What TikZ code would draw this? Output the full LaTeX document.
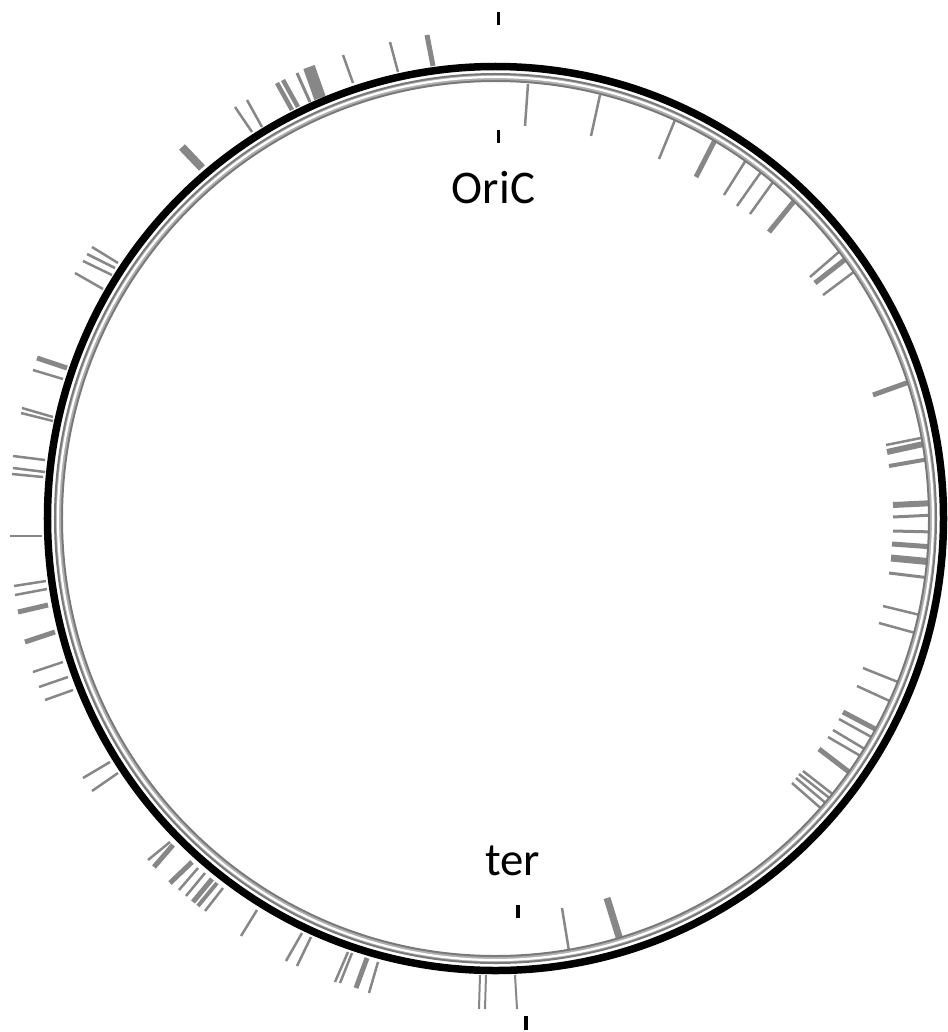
\documentclass[tikz,border=0pt]{standalone}
\usepackage{fontspec}
\setmainfont{Carlito}
\definecolor{tickgray}{RGB}{135,135,135}
\definecolor{ringgray}{RGB}{120,120,120}
\definecolor{ringmid}{RGB}{175,175,175}
\begin{document}
\begin{tikzpicture}[x=1bp,y=-1bp,
  tk/.style={tickgray,line width=#1bp},
  marker/.style={black,line width=3.5bp},
  lbl/.style={font=\fontsize{47}{52}\selectfont,anchor=base,inner sep=0pt}]
\useasboundingbox (0,0) rectangle (948,1032);
\coordinate (c) at (495.5,518.5);
% outer ticks
\foreach \xa/\ya/\xb/\yb/\w in {
 182/147/202/168/8, 235/107/252/132/2.5, 247/100/262/127/2.5,
 277/83/292/110/4.5, 283/80/298/107/4.5, 297/73/310/102/3,
 309/67/320/98/12, 343/55/353/83/2.5, 390/42/398/72/2.5, 427/35/433/66/5,
 92/247/118/263/2.5, 87/254/115/268/2.5, 83/261/112/275/2.5, 75/273/103/289/2.5,
 37/358/67/368/5, 33/370/63/379/2.5, 22/408/53/417/2.5, 21/413/53/421/2.5,
 13/456/45/460/2.5, 13/468/45/472/2.5, 12/474/43/477/2.5, 10/536/42/536/2,
 14/586/46/581/2.5, 15/595/47/589/2.5, 18/612/48/605/5, 25/642/55/632/5,
 33/672/63/662/2.5, 39/687/68/677/2.5, 45/700/73/690/2.5,
 83/778/110/762/2.5, 92/791/118/773/2.5,
 148/860/170/842/2.5, 154/867/173/845/5, 170/883/192/862/5, 179/890/198/868/2.5,
 186/896/205/873/2.5, 193/902/212/879/5, 198/906/217/883/4, 205/911/223/888/2.5,
 241/936/257/910/2.5, 286/961/302/933/2.5, 297/966/311/937/2.5,
 335/982/348/952/2.5, 340/983/352/953/2.5, 356/988/367/958/5, 369/993/378/962/2.5,
 479/1009/480/975/2, 485/1009/486/975/2, 517/1009/515/975/2}
 \draw[tk=\w] (\xa,\ya) -- (\xb,\yb);
% inner ticks
\foreach \xa/\ya/\xb/\yb/\w in {
 528/84/525/126/2.5, 600/95/591/136/2.5, 675/120/659/159/2.5, 715/140/696/177/5,
 746/160/724/195/2.5, 761/172/737/206/2.5, 773/182/750/214/2.5, 795/200/769/232/5,
 840/251/810/277/2.5, 847/258/815/283/5, 855/271/823/295/2.5,
 912/381/873/395/5, 926/437/886/445/2.5, 928/443/887/452/6, 929/459/889/466/4,
 935/503/893/505/6, 935/515/893/517/3, 935/532/893/531/3, 934/547/892/544/5,
 933/562/891/558/7, 930/578/889/573/3, 924/616/883/606/2.5, 919/634/879/623/2.5,
 903/684/863/668/2.5, 894/703/857/686/2.5, 879/731/843/712/5, 875/739/839/719/2.5,
 868/751/833/730/2.5, 864/758/828/737/2.5, 853/775/819/749/5,
 835/796/803/771/2.5, 832/800/799/774/2.5, 828/805/796/778/2.5, 824/811/792/783/2.5,
 569/951/562/908/2.5, 620/940/607/898/7}
 \draw[tk=\w] (\xa,\ya) -- (\xb,\yb);
% grey ring
\draw[ringgray,line width=9bp] (c) ellipse [x radius=437bp, y radius=441bp];
\draw[ringmid,line width=5bp] (c) ellipse [x radius=437bp, y radius=441bp];
\draw[white,line width=2.2bp] (c) ellipse [x radius=437.5bp, y radius=441.5bp];
% black circle
\draw[black,line width=7.5bp] (c) ellipse [x radius=448bp, y radius=452bp];
% markers
\coordinate (o1) at (498.5,12); \coordinate (o2) at (498.5,25);
\coordinate (o3) at (498.5,130); \coordinate (o4) at (498.5,143);
\coordinate (t1) at (518,905); \coordinate (t2) at (518,918);
\coordinate (t3) at (526,1016); \coordinate (t4) at (526,1030);
\draw[marker] (o1) -- (o2);
\draw[marker] (o3) -- (o4);
\draw[marker] (t1) -- (t2);
\draw[marker] (t3) -- (t4);
\node[lbl] (oric) at (493.5,203) {OriC};
\node[lbl] (ter) at (512.5,875) {ter};
\end{tikzpicture}
\end{document}
